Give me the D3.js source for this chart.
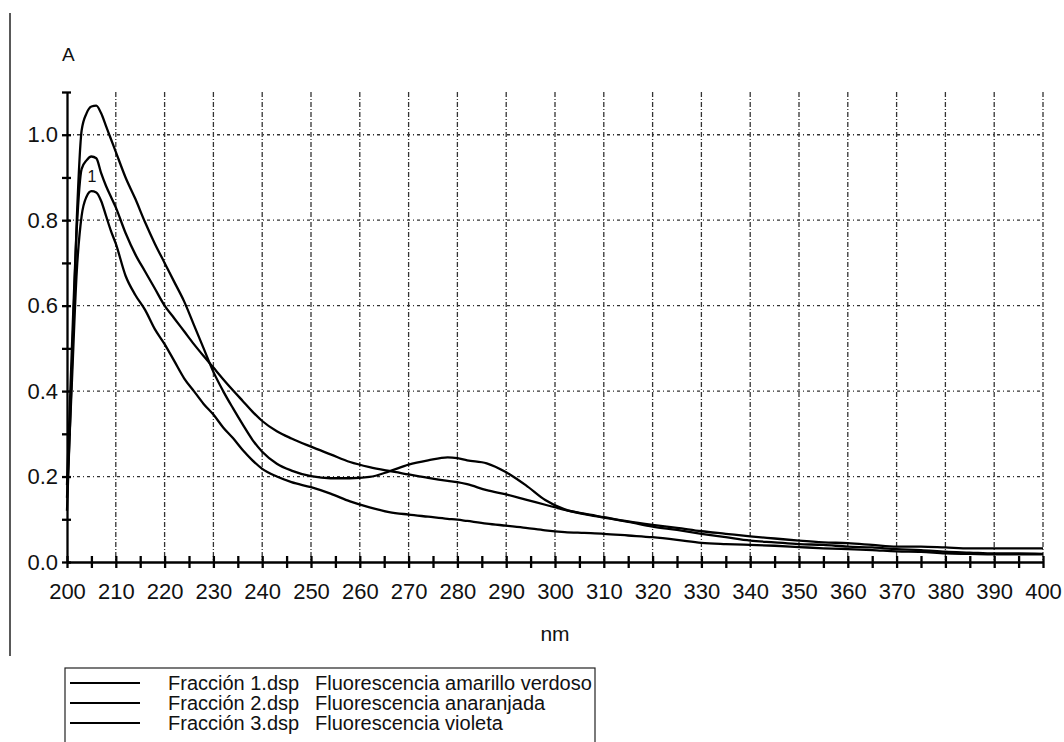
<!DOCTYPE html>
<html>
<head>
<meta charset="utf-8">
<script src="https://cdn.jsdelivr.net/npm/d3@7"></script>
<style>
  body { margin: 0; background: #fff; }
  svg text { font-family: "Liberation Sans", Arial, sans-serif; fill: #111; }
</style>
</head>
<body>
<div id="chart"></div>
<script>
// wavelengths (nm) shared by all three spectra
var wavelengths = [200,201,202,203,204,205,206,207,208,209,210,212,214,216,218,220,222,224,226,228,230,232,234,236,238,240,243,246,250,254,258,262,266,270,274,278,280,282,286,290,294,298,302,306,310,315,320,325,330,335,340,345,350,355,360,365,370,375,380,385,390,395,400];

// Fracción 1 - peak 1.07, bump near 280
var fraccion1 = [0.12,0.45,0.80,1.01,1.05,1.066,1.068,1.05,1.02,0.99,0.96,0.90,0.85,0.795,0.745,0.70,0.655,0.61,0.555,0.50,0.445,0.40,0.36,0.322,0.286,0.258,0.23,0.214,0.201,0.196,0.196,0.199,0.212,0.228,0.238,0.245,0.243,0.238,0.231,0.21,0.18,0.145,0.123,0.112,0.104,0.094,0.083,0.075,0.066,0.058,0.050,0.046,0.042,0.040,0.036,0.034,0.030,0.028,0.024,0.022,0.020,0.020,0.019];

// Fracción 2 - peak 0.95, smooth decay
var fraccion2 = [0.18,0.50,0.78,0.92,0.94,0.949,0.945,0.91,0.88,0.855,0.83,0.77,0.72,0.68,0.64,0.60,0.57,0.54,0.51,0.482,0.455,0.428,0.402,0.377,0.352,0.33,0.306,0.289,0.27,0.252,0.234,0.222,0.213,0.205,0.197,0.19,0.187,0.182,0.168,0.158,0.146,0.134,0.122,0.113,0.105,0.095,0.087,0.080,0.072,0.066,0.060,0.055,0.050,0.046,0.044,0.040,0.036,0.036,0.034,0.032,0.032,0.032,0.032];

// Fracción 3 - peak 0.87, lowest
var fraccion3 = [0.15,0.42,0.68,0.81,0.855,0.868,0.865,0.845,0.81,0.775,0.745,0.67,0.625,0.59,0.545,0.51,0.47,0.43,0.40,0.37,0.345,0.315,0.29,0.262,0.238,0.218,0.2,0.187,0.175,0.16,0.142,0.128,0.117,0.111,0.106,0.101,0.099,0.096,0.09,0.085,0.08,0.074,0.07,0.068,0.066,0.062,0.058,0.052,0.045,0.042,0.040,0.038,0.035,0.032,0.030,0.028,0.025,0.024,0.020,0.019,0.018,0.018,0.018];

var series = [fraccion1, fraccion2, fraccion3];

var legendNames = ["Fracción 1.dsp", "Fracción 2.dsp", "Fracción 3.dsp"];
var legendDesc = ["Fluorescencia amarillo verdoso", "Fluorescencia anaranjada", "Fluorescencia violeta"];

var xTicks = d3.range(200, 401, 10);
var yTicks = [0, 0.2, 0.4, 0.6, 0.8, 1.0];

var svgWidth = 1064;
var svgHeight = 742;

var margin = { top: 92, left: 67, right: 21, bottom: 180 };
var width = svgWidth - margin.left - margin.right;
var height = svgHeight - margin.top - margin.bottom;

var svg = d3.select("#chart")
    .append("svg")
    .attr("width", svgWidth)
    .attr("height", svgHeight);

// page border on the left
svg.append("line")
    .attr("x1", 10).attr("x2", 10)
    .attr("y1", 13).attr("y2", 656)
    .attr("stroke", "#222")
    .attr("stroke-width", 1.5);

var chartGroup = svg.append("g")
    .attr("transform", `translate(${margin.left}, ${margin.top})`);

var x = d3.scaleLinear().domain([200, 400]).range([0, width]);
var y = d3.scaleLinear().domain([0, 1.1]).range([height, 0]);

// grid
chartGroup.append("g")
    .selectAll("line")
    .data(xTicks.filter(d => d > 200))
    .enter()
    .append("line")
    .attr("x1", d => x(d)).attr("x2", d => x(d))
    .attr("y1", 0).attr("y2", height)
    .attr("stroke", "#333")
    .attr("stroke-width", 1.3)
    .attr("stroke-dasharray", "5,2,1,2");

chartGroup.append("g")
    .selectAll("line")
    .data(yTicks.filter(d => d > 0))
    .enter()
    .append("line")
    .attr("x1", 0).attr("x2", width)
    .attr("y1", d => y(d)).attr("y2", d => y(d))
    .attr("stroke", "#333")
    .attr("stroke-width", 1.3)
    .attr("stroke-dasharray", "3,3,1,3");

// curves
var line = d3.line()
    .x((d, i) => x(wavelengths[i]))
    .y(d => y(d))
    .curve(d3.curveMonotoneX);

chartGroup.selectAll(".curve")
    .data(series)
    .enter()
    .append("path")
    .attr("class", "curve")
    .attr("d", line)
    .attr("fill", "none")
    .attr("stroke", "#000")
    .attr("stroke-width", 2.3)
    .attr("stroke-linejoin", "round");

// small "1" mark next to the peaks
chartGroup.append("text")
    .attr("x", x(204.2))
    .attr("y", y(0.89))
    .attr("font-size", "16px")
    .text("1");

// y axis
var yAxis = d3.axisLeft(y)
    .tickValues(d3.range(0, 11).map(d => d / 10).concat([1.1]))
    .tickSizeInner(5)
    .tickSizeOuter(0)
    .tickPadding(5)
    .tickFormat(d => yTicks.some(t => Math.abs(t - d) < 1e-9) ? d3.format(".1f")(d) : "");

var yAxisG = chartGroup.append("g").call(yAxis);
yAxisG.select(".domain").attr("stroke", "#000").attr("stroke-width", 2.3);
yAxisG.selectAll(".tick line")
    .attr("x2", -5).attr("x1", 4)
    .attr("stroke", "#000").attr("stroke-width", 2.3);
yAxisG.selectAll(".tick text")
    .attr("x", -9)
    .attr("font-size", "22px")
    .style("font-family", "Liberation Sans, Arial, sans-serif")
    .attr("fill", "#111");

// x axis
var xAxis = d3.axisBottom(x)
    .tickValues(d3.range(200, 401, 5))
    .tickSizeInner(6)
    .tickSizeOuter(0)
    .tickFormat(d => d % 10 === 0 ? d : "");

var xAxisG = chartGroup.append("g")
    .attr("transform", `translate(0, ${height})`)
    .call(xAxis);
xAxisG.select(".domain").attr("stroke", "#000").attr("stroke-width", 2.3);
xAxisG.selectAll(".tick line")
    .attr("y1", -6).attr("y2", 6)
    .attr("stroke", "#000").attr("stroke-width", 2.3);
xAxisG.selectAll(".tick text")
    .attr("y", 21)
    .attr("font-size", "22px")
    .style("font-family", "Liberation Sans, Arial, sans-serif")
    .attr("fill", "#111");

// axis titles
svg.append("text")
    .attr("x", 62)
    .attr("y", 61)
    .attr("font-size", "19px")
    .text("A");

svg.append("text")
    .attr("x", margin.left + width / 2)
    .attr("y", 641)
    .attr("text-anchor", "middle")
    .attr("font-size", "21px")
    .text("nm");

// legend
var legend = svg.append("g");

legend.append("rect")
    .attr("x", 65).attr("y", 668)
    .attr("width", 530).attr("height", 100)
    .attr("fill", "none")
    .attr("stroke", "#222")
    .attr("stroke-width", 1.2);

var rows = legend.selectAll(".row")
    .data(legendNames)
    .enter()
    .append("g")
    .attr("class", "row")
    .attr("transform", (d, i) => `translate(0, ${683 + i * 20})`);

rows.append("line")
    .attr("x1", 70).attr("x2", 140)
    .attr("y1", 0).attr("y2", 0)
    .attr("stroke", "#000")
    .attr("stroke-width", 2);

rows.append("text")
    .attr("x", 168)
    .attr("y", 7)
    .attr("font-size", "20px")
    .text(d => d);

rows.append("text")
    .attr("x", 315)
    .attr("y", 7)
    .attr("font-size", "20px")
    .text((d, i) => legendDesc[i]);
</script>
</body>
</html>
